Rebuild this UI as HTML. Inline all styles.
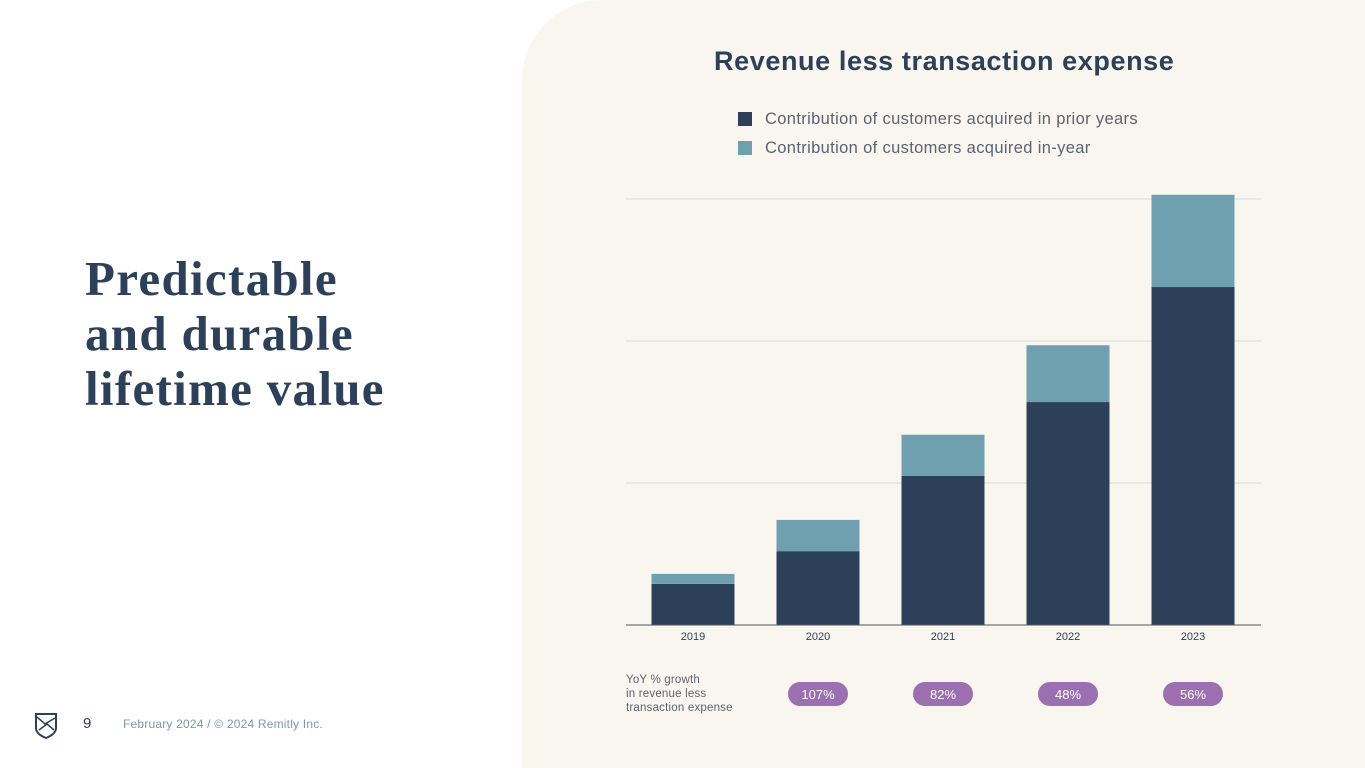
<!DOCTYPE html>
<html><head><meta charset="utf-8"><style>
body{margin:0;width:1365px;height:768px;position:relative;overflow:hidden;background:#fff;font-family:"Liberation Sans",sans-serif}
.panel{position:absolute;left:522px;top:0;width:843px;height:768px;background:#f9f6f0;border-top-left-radius:80px}
h1{position:absolute;left:85px;top:251px;margin:0;font-family:"Liberation Serif",serif;font-weight:bold;font-size:49px;letter-spacing:1.3px;line-height:55px;color:#2d4059}
.title{position:absolute;left:714px;top:46px;font-size:27px;letter-spacing:0.6px;font-weight:bold;color:#2d4059}
.leg{position:absolute;left:738px;font-size:16.5px;letter-spacing:0.35px;color:#5a6473}
.leg span{display:inline-block;width:14px;height:14px;margin-right:13px;vertical-align:-2px}
.foot{position:absolute;top:717px;font-size:12px;letter-spacing:0.2px;color:#7a9aaa}
</style></head><body>
<div class="panel"></div>
<h1>Predictable<br>and durable<br>lifetime value</h1>
<div class="title">Revenue less transaction expense</div>
<div class="leg" style="top:110px"><span style="background:#2d4059"></span>Contribution of customers acquired in prior years</div>
<div class="leg" style="top:139px"><span style="background:#6fa0b0"></span>Contribution of customers acquired in-year</div>
<svg id="chart" width="1365" height="768" style="position:absolute;left:0;top:0"></svg>
<div style="position:absolute;left:626px;top:673px;font-size:11.5px;line-height:14px;letter-spacing:0.2px;color:#5a6473">YoY % growth<br>in revenue less<br>transaction expense</div>
<svg width="34" height="30" style="position:absolute;left:31px;top:711px"><path d="M5 3 L25 3 L25 17 Q25 23 15 27 Q5 23 5 17 Z" fill="none" stroke="#2d4059" stroke-width="2"/><path d="M6 6 L14 13 L24 7 M8 19 L16 13 L23 19" fill="none" stroke="#2d4059" stroke-width="1.5"/></svg>
<div class="foot" style="left:83px;top:715px;font-size:15px;color:#2d4059">9</div>
<div class="foot" style="left:123px">February 2024 / © 2024 Remitly Inc.</div>
<script>
const years=["2019","2020","2021","2022","2023"];
const prior=[29,52,105,157,238];
const inYear=[7,22,29,40,65];
const growth=["","107%","82%","48%","56%"];
const gridVals=[100,200,300];
const NS="http://www.w3.org/2000/svg",svg=document.getElementById('chart');
const base=625,pxPer=142/100,x0=693,step=125,bw=83;
const y=v=>base-v*pxPer, xc=i=>x0+i*step;
function el(t,a){const e=document.createElementNS(NS,t);for(const k in a)e.setAttribute(k,a[k]);svg.appendChild(e);return e;}
gridVals.forEach(g=>{const l=el('line',{x1:626,x2:1261,y1:y(g),y2:y(g),stroke:'#dcdad5','stroke-width':1});

});
years.forEach((yr,i)=>{
 const a=el('rect',{x:xc(i)-bw/2,y:y(prior[i]),width:bw,height:prior[i]*pxPer,fill:'#2d4059'});
 
 
 const b=el('rect',{x:xc(i)-bw/2,y:y(prior[i]+inYear[i]),width:bw,height:inYear[i]*pxPer,fill:'#6fa0b0'});
 
 
 const t=el('text',{x:xc(i),y:640,'text-anchor':'middle','font-size':11,fill:'#2d4059','font-family':'Liberation Sans'});t.textContent=yr;
 
 
 if(growth[i]){
  const p=el('rect',{x:xc(i)-30,y:682,width:60,height:24,rx:12,fill:'#9b6fb0'});
  
  
  const pt=el('text',{x:xc(i),y:699,'text-anchor':'middle','font-size':13,fill:'#fff','font-family':'Liberation Sans'});pt.textContent=growth[i];
  
  
 }
});
const ax=el('line',{x1:626,x2:1261,y1:base,y2:base,stroke:'#555','stroke-width':1});


</script>
</body></html>
